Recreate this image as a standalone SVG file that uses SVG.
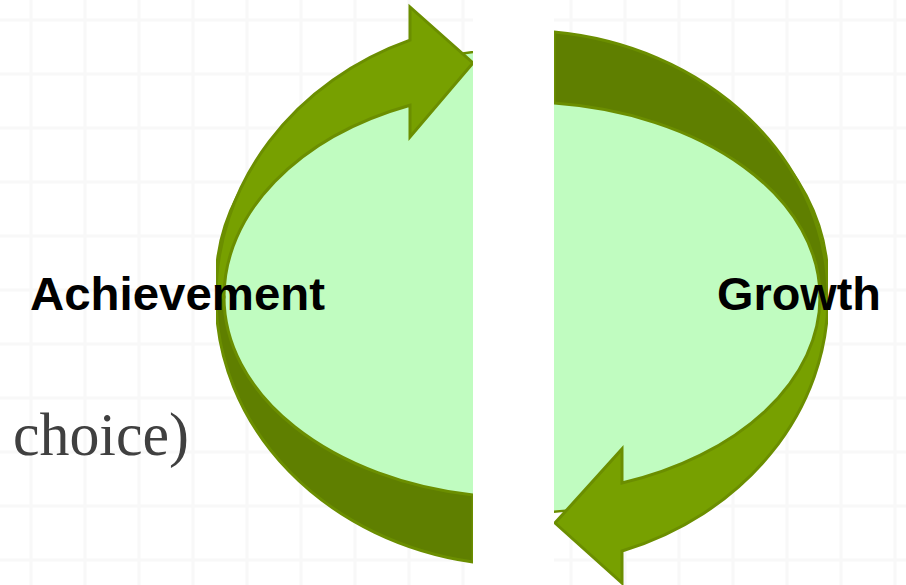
<svg xmlns="http://www.w3.org/2000/svg" width="906" height="585" viewBox="0 0 906 585">
  <style>
    .grid { stroke: #f8f8f8; stroke-width: 3; fill: none; }
    .disc { fill: #c0fcc0; stroke: #6b8e00; stroke-width: 2.5; }
    .arrow { fill: #77a000; stroke: #6b8e00; stroke-width: 3; stroke-linejoin: miter; }
    .band { fill: #5f7f00; stroke: #6b8e00; stroke-width: 3; }
    .label { font-family: "Liberation Sans", Arial, sans-serif; font-weight: bold; font-size: 46px; fill: #000; }
    .caption { font-family: "Liberation Serif", "Times New Roman", serif; font-size: 62px; fill: #404040; }
  </style>
  <defs>
    <clipPath id="halves">
      <rect x="216" y="0" width="257" height="585"/>
      <rect x="554" y="0" width="274" height="585"/>
    </clipPath>
  </defs>

  <rect width="906" height="585" fill="#ffffff"/>

  <!-- faint background grid -->
  <g id="background">
    <path class="grid" d="M31 0V585M85 0V585M139 0V585M193 0V585M247 0V585M301 0V585M355 0V585M409 0V585M463 0V585M517 0V585M571 0V585M625 0V585M679 0V585M733 0V585M787 0V585M841 0V585M895 0V585"/>
    <path class="grid" d="M0 20H906M0 74H906M0 128H906M0 182H906M0 236H906M0 290H906M0 344H906M0 398H906M0 452H906M0 506H906M0 560H906"/>
    <rect x="473" y="0" width="81" height="585" fill="#ffffff"/>
  </g>

  <g clip-path="url(#halves)">
    <!-- pale green disc behind the cycle -->
    <g id="disc">
      <ellipse class="disc" cx="522" cy="281" rx="306" ry="232"/>
    </g>

    <g id="connectors">
      <!-- lower-left band -->
      <path class="band" d="M216 297 A306 268.5 0 0 0 473 562 L473 495 A298 200.7 0 0 1 224 297 Z"/>
      <!-- upper-right band -->
      <path class="band" d="M554 32 A306 266.5 0 0 1 828 297 L820 297 A298 195 0 0 0 554 103.1 Z"/>
      <!-- upper-left arrow, pointing right -->
      <path class="arrow" d="M216 297 A306 276 0 0 1 410 40.2 L410 7 L473 63 L410 137 L410 105.2 A298 207 0 0 0 224 297 Z"/>
      <!-- lower-right arrow, pointing left -->
      <path class="arrow" d="M828 297 A306 268.8 0 0 1 622 551 L622 583 L555 523 L622 449 L622 483 A298 197.5 0 0 0 820 297 Z"/>
    </g>
  </g>

  <g id="achievement">
    <text class="label" x="30" y="310" textLength="295" lengthAdjust="spacingAndGlyphs">Achievement</text>
  </g>
  <g id="growth">
    <text class="label" x="717" y="310" textLength="164" lengthAdjust="spacingAndGlyphs">Growth</text>
  </g>
  <g id="caption">
    <text class="caption" x="13" y="455" textLength="176" lengthAdjust="spacingAndGlyphs">choice)</text>
  </g>
</svg>
